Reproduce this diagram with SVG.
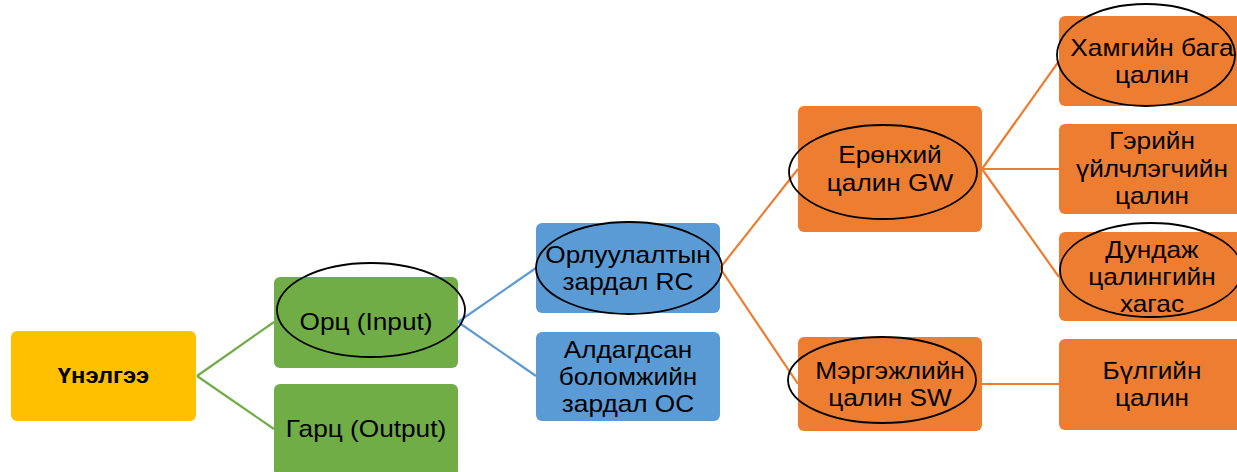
<svg xmlns="http://www.w3.org/2000/svg" width="1237" height="472" viewBox="0 0 1237 472">
<style>
.box{stroke:none}
.y{fill:#FFC000}.g{fill:#70AD47}.b{fill:#5B9BD5}.o{fill:#ED7D31}
.t{font-family:"Liberation Sans",Arial,sans-serif;font-size:23px;fill:#000;text-anchor:middle}
.bold{font-weight:bold;font-size:22px}
.ell{fill:none;stroke:#000;stroke-width:1.8}
.cg{stroke:#70AD47;stroke-width:2.2;fill:none}
.cb{stroke:#5B9BD5;stroke-width:2.2;fill:none}
.co{stroke:#ED7D31;stroke-width:2.2;fill:none}
</style>
<rect width="1237" height="472" fill="#fff"/>
<g id="connectors">
<path class="cg" d="M197,376 L274,322 M197,376 L274,429"/>
<path class="cb" d="M458,322 L536,268 M458,322 L536,376"/>
<path class="co" d="M720,268 L798,169 M720,268 L798,384"/>
<path class="co" d="M982,169 L1059,61 M982,169 L1059,169 M982,169 L1059,277 M982,384 L1059,384"/>
</g>
<g id="n-unelgee">
<rect class="box y" x="11" y="331" width="185" height="90" rx="6"/>
<g transform="translate(103.5,383) scale(1.08,1)"><text class="t bold" x="0" y="0">Үнэлгээ</text></g>
</g>
<g id="n-orts">
<rect class="box g" x="274" y="277" width="184" height="91" rx="6"/>
<g transform="translate(366,330) scale(1.14,1)"><text class="t" x="0" y="0">Орц (Input)</text></g>
<ellipse class="ell" cx="371" cy="310" rx="94" ry="47"/>
</g>
<g id="n-garts">
<rect class="box g" x="274" y="384" width="184" height="92" rx="6"/>
<g transform="translate(366,437) scale(1.14,1)"><text class="t" x="0" y="0">Гарц (Output)</text></g>
</g>
<g id="n-rc">
<rect class="box b" x="536" y="223" width="184" height="90" rx="6"/>
<g transform="translate(628,0) scale(1.14,1)"><text class="t"><tspan x="0" y="263">Орлуулалтын</tspan><tspan x="0" y="290">зардал RC</tspan></text></g>
<ellipse class="ell" cx="629" cy="268" rx="93" ry="46"/>
</g>
<g id="n-oc">
<rect class="box b" x="536" y="332" width="184" height="89" rx="6"/>
<g transform="translate(628,0) scale(1.14,1)"><text class="t"><tspan x="0" y="358">Алдагдсан</tspan><tspan x="0" y="385">боломжийн</tspan><tspan x="0" y="412">зардал OC</tspan></text></g>
</g>
<g id="n-gw">
<rect class="box o" x="798" y="106" width="184" height="126" rx="6"/>
<g transform="translate(890,0) scale(1.14,1)"><text class="t"><tspan x="0" y="163">Ерөнхий</tspan><tspan x="0" y="191">цалин GW</tspan></text></g>
<ellipse class="ell" cx="883" cy="172" rx="94" ry="47"/>
</g>
<g id="n-sw">
<rect class="box o" x="798" y="337" width="184" height="94" rx="6"/>
<g transform="translate(890,0) scale(1.14,1)"><text class="t"><tspan x="0" y="379">Мэргэжлийн</tspan><tspan x="0" y="406">цалин SW</tspan></text></g>
<ellipse class="ell" cx="882" cy="380" rx="94" ry="43"/>
</g>
<g id="n-min">
<rect class="box o" x="1059" y="16" width="184" height="90" rx="6"/>
<g transform="translate(1152,0) scale(1.14,1)"><text class="t"><tspan x="0" y="56">Хамгийн бага</tspan><tspan x="0" y="83">цалин</tspan></text></g>
<ellipse class="ell" cx="1146" cy="55" rx="89" ry="51"/>
</g>
<g id="n-home">
<rect class="box o" x="1059" y="124" width="184" height="90" rx="6"/>
<g transform="translate(1152,0) scale(1.14,1)"><text class="t"><tspan x="0" y="149">Гэрийн</tspan><tspan x="0" y="177">үйлчлэгчийн</tspan><tspan x="0" y="204">цалин</tspan></text></g>
</g>
<g id="n-half">
<rect class="box o" x="1059" y="232" width="184" height="89" rx="6"/>
<g transform="translate(1152,0) scale(1.14,1)"><text class="t"><tspan x="0" y="258">Дундаж</tspan><tspan x="0" y="285">цалингийн</tspan><tspan x="0" y="312">хагас</tspan></text></g>
<ellipse class="ell" cx="1151" cy="270" rx="91" ry="47"/>
</g>
<g id="n-group">
<rect class="box o" x="1059" y="339" width="184" height="91" rx="6"/>
<g transform="translate(1152,0) scale(1.14,1)"><text class="t"><tspan x="0" y="379">Бүлгийн</tspan><tspan x="0" y="406">цалин</tspan></text></g>
</g>
</svg>
